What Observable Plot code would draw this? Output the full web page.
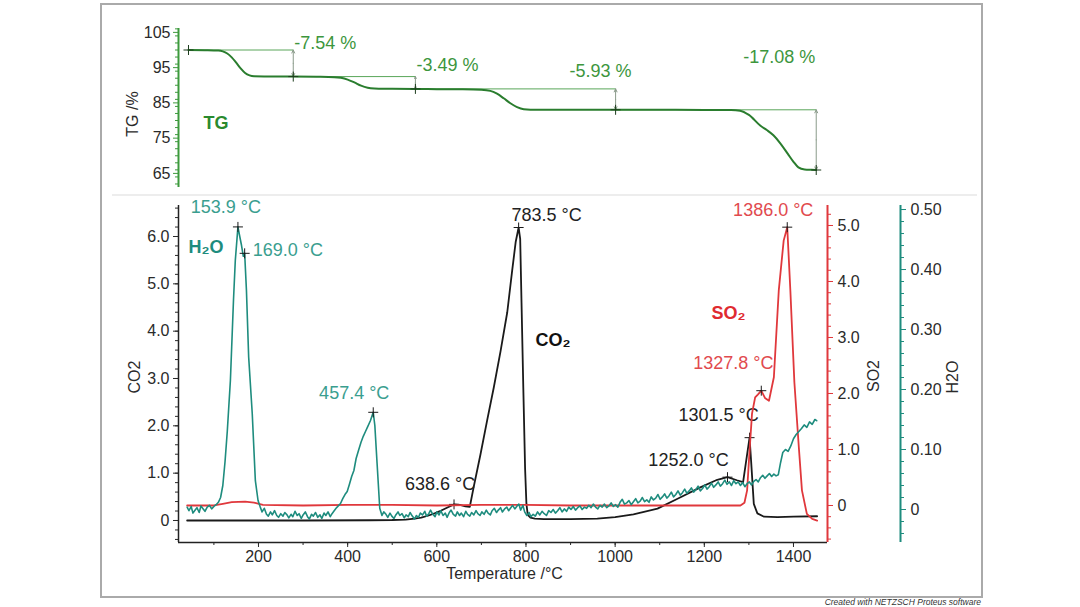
<!DOCTYPE html>
<html><head><meta charset="utf-8">
<script src="https://cdn.jsdelivr.net/npm/d3@7"></script>
<script src="https://cdn.jsdelivr.net/npm/@observablehq/plot@0.6"></script>
<style>
body{margin:0;background:#fff;}
#wrap{position:relative;width:1080px;height:607px;overflow:hidden;font-family:"Liberation Sans",Arial,sans-serif;background:#fff;}
#wrap svg{position:absolute;left:0;top:0;}
#frame{position:absolute;left:100px;top:3px;width:879px;height:591px;border:2px solid #aaa;}
#sep{position:absolute;left:112px;top:194px;width:865px;height:2px;background:#ededed;}
#credit{position:absolute;right:99px;top:597px;font-size:8.5px;font-style:italic;color:#333;white-space:nowrap;}
</style></head>
<body><div id="wrap"><div id="frame"></div><div id="sep"></div><div id="credit">Created with NETZSCH Proteus software</div></div>
<script>
// ---------------- data ----------------
const xDomain = [20.6, 1476.3];
const xTicks = [200, 400, 600, 800, 1000, 1200, 1400];
const tgTicks = [65, 75, 85, 95, 105];
const co2Ticks = [0, 1, 2, 3, 4, 5, 6];
const so2Ticks = [0, 1, 2, 3, 4, 5];
const h2oTicks = [0, 0.1, 0.2, 0.3, 0.4, 0.5];

// TG curve [temperature, mass %]
const tgCurve = [[43,100],[80,99.95],[110,99.85],[120,99.6],[130,99.0],[140,97.9],[150,96.4],[160,94.8],[170,93.5],[180,92.8],[190,92.55],[220,92.5],[278,92.46],[330,92.4],[370,92.3],[385,92.1],[400,91.6],[415,90.8],[430,89.9],[445,89.3],[460,89.05],[470,89.0],[500,88.98],[552,88.97],[600,88.9],[650,88.85],[700,88.7],[720,88.4],[735,87.6],[750,86.3],[765,84.9],[780,83.8],[795,83.2],[810,83.08],[900,83.06],[1001,83.04],[1100,83.03],[1200,83.0],[1260,82.95],[1280,82.8],[1300,81.6],[1326,78.5],[1340,77.3],[1355,75.8],[1370,73.6],[1387,70.6],[1400,68.3],[1411,66.7],[1425,66.1],[1440,66.0],[1451,65.96]];

// TG steps
const stepStart = [43, 278, 552, 1001];
const stepTemp = [278, 552, 1001, 1451];
const stepFrom = [100.0, 92.46, 88.97, 83.04];
const stepTo = [92.46, 88.97, 83.04, 65.96];
const stepLabel = ["-7.54 %", "-3.49 %", "-5.93 %", "-17.08 %"];

// CO2 curve
const co2Curve = [[40,0],[150,0],[300,0],[450,0.005],[500,0.01],[530,0.02],[550,0.04],[565,0.06],[580,0.10],[595,0.15],[610,0.21],[625,0.28],[638.6,0.34],[652,0.33],[664,0.30],[674,0.29],[683,0.72],[698,1.40],[713,2.12],[728,2.82],[743,3.58],[758,4.40],[769,5.28],[777,5.89],[783.5,6.19],[787,5.95],[790,4.6],[794,2.8],[798,1.1],[801,0.35],[804,0.12],[810,0.06],[820,0.04],[840,0.03],[900,0.03],[960,0.04],[1000,0.07],[1041,0.13],[1095,0.25],[1140,0.46],[1191,0.70],[1229,0.86],[1252,0.915],[1273,0.85],[1287,0.81],[1293,1.2],[1301.5,1.75],[1305,1.25],[1311,0.35],[1319,0.15],[1334,0.08],[1364,0.07],[1400,0.08],[1453,0.09]];

// SO2 curve
const so2Curve = [[40,0.0],[100,0.0],[120,0.03],[140,0.06],[170,0.07],[190,0.05],[210,0.01],[300,0.0],[400,0.01],[500,0.01],[600,0.0],[700,0.01],[800,0.01],[900,0.0],[1000,0.0],[1100,0.0],[1200,0.0],[1281,0.0],[1290,0.05],[1296,0.27],[1302,1.04],[1307,1.64],[1314,1.93],[1320,1.98],[1327.8,2.05],[1336,1.92],[1345,1.87],[1356,2.29],[1367,3.84],[1378,4.73],[1386,4.97],[1393,3.84],[1402,2.2],[1412,1.04],[1419,0.27],[1430,-0.15],[1442,-0.24],[1453,-0.27]];

// H2O curve
const h2oCurve = [[40,0.004],[44,-0.002],[49,0.005],[53,-0.006],[58,-0.001],[62,0.003],[67,-0.005],[71,0.006],[76,0.001],[80,-0.003],[85,0.004],[90,0.007],[95,0.001],[100,0.005],[105,0.008],[110,0.012],[115,0.020],[120,0.040],[125,0.080],[130,0.130],
[137,0.215],[144,0.35],[148,0.415],[153.9,0.471],[158,0.455],[162,0.44],[166,0.422],[169,0.427],[173,0.365],[178,0.254],[186,0.16],[193,0.048],[199,0.015],
[204,0.004],[208,-0.004],[213,0.002],[218,-0.008],[222,-0.011],[227,-0.004],[231,-0.009],[236,-0.002],[241,-0.010],[245,-0.013],[250,-0.007],[255,-0.011],[259,-0.005],[264,-0.009],[268,-0.014],[273,-0.008],[277,-0.012],[282,-0.003],[287,-0.010],[291,-0.007],[296,-0.015],[300,-0.009],[305,-0.004],[310,-0.012],[314,-0.016],[319,-0.008],[323,-0.011],[328,-0.005],[333,-0.013],[338,-0.009],[342,-0.015],[347,-0.006],[351,-0.010],[356,-0.004],[361,-0.012],[365,-0.007],[369,-0.003],[374,0.002],[379,0.006],[384,0.010],[389,0.018],[394,0.025],[399,0.030],[404,0.042],[409,0.055],[414,0.065],[419,0.085],
[425,0.100],[430,0.112],[435,0.122],[440,0.130],[445,0.138],[451,0.148],[457.4,0.162],[461,0.140],[466,0.077],[472,0.002],
[477,-0.010],[481,-0.004],[486,-0.008],[490,-0.013],[495,-0.006],[499,-0.011],[504,-0.015],[508,-0.009],[513,-0.004],[517,-0.010],[522,-0.007],[527,-0.014],[531,-0.009],[536,-0.012],[540,-0.005],[545,-0.011],[550,-0.016],[554,-0.010],[559,-0.013],[563,-0.006],[568,-0.009],[573,-0.003],[577,-0.011],[582,-0.007],[586,-0.001],[591,-0.008],[596,-0.012],[600,-0.004],[605,-0.009],[609,-0.002],[614,-0.010],[619,-0.006],[623,-0.013],[628,-0.005],[632,-0.001],[637,-0.008],[642,-0.011],[646,-0.004],[651,-0.010],[655,-0.006],[660,-0.012],[665,-0.003],[669,-0.008],[674,-0.011],[678,-0.005],[683,-0.009],[688,-0.002],[692,-0.007],[697,-0.010],[701,-0.004],[706,-0.008],[711,-0.001],[715,-0.006],[720,-0.009],[724,-0.002],[729,0.002],[734,-0.005],[738,-0.001],[743,0.003],[747,-0.004],[752,0.001],[757,0.004],[761,-0.002],[766,0.003],[770,0.007],[775,0.001],[780,0.006],[784,0.009],[788,-0.001],[793,0.007],[797,-0.004],[802,-0.010],[807,-0.005],[811,-0.012],[816,-0.008],[821,-0.011],[826,-0.004],[831,-0.009],
[836,-0.003],[841,-0.007],[846,-0.010],[851,-0.002],[856,-0.005],[861,0.000],[866,-0.006],[871,-0.002],[876,0.003],[881,-0.004],[886,0.001],[891,-0.003],[896,0.004],[901,0.000],[906,0.005],[911,-0.001],[916,0.003],[921,0.006],[926,0.000],[931,0.004],[936,0.002],[941,0.007],[946,0.003],[951,0.009],[956,0.004],[961,0.001],[966,0.007],[971,0.004],[976,0.009],[981,0.003],[986,0.006],[991,0.011],[996,0.005],[1001,0.008],[1006,0.004],[1011,0.012],[1016,0.017],[1021,0.009],[1026,0.011],[1031,0.015],[1036,0.008],[1041,0.013],[1046,0.018],[1051,0.011],[1056,0.014],[1061,0.020],[1066,0.013],[1071,0.016],[1076,0.012],[1081,0.021],[1086,0.016],[1091,0.019],[1096,0.025],[1101,0.017],[1106,0.021],[1111,0.026],[1116,0.019],[1121,0.023],[1126,0.029],[1131,0.021],[1136,0.025],[1141,0.031],[1146,0.024],[1151,0.028],[1156,0.034],[1161,0.027],[1166,0.031],[1171,0.036],[1176,0.029],[1181,0.033],[1186,0.039],[1191,0.031],[1196,0.035],[1201,0.041],[1206,0.034],[1211,0.038],[1216,0.044],[1221,0.037],[1226,0.041],[1231,0.046],[1236,0.039],[1241,0.043],[1246,0.049],[1251,0.042],[1256,0.046],[1261,0.040],[1266,0.048],[1271,0.043],[1276,0.046],[1281,0.040],[1286,0.045],[1291,0.038],[1296,0.043],[1301,0.046],[1306,0.041],[1311,0.047],[1316,0.050],[1321,0.046],[1326,0.053],[1331,0.057],[1336,0.052],[1341,0.056],[1346,0.060],[1351,0.055],[1356,0.059],[1361,0.056],[1366,0.058],
[1371,0.078],[1376,0.095],[1382,0.100],[1388,0.097],[1394,0.106],[1400,0.118],[1406,0.125],[1412,0.130],[1418,0.135],[1424,0.141],[1430,0.137],[1436,0.146],[1442,0.142],[1448,0.150],[1452,0.148]];

// peaks
const h2oPeakTemp = [153.9, 169.0, 457.4];
const h2oPeakValue = [0.471, 0.427, 0.162];
const co2PeakTemp = [638.6, 783.5, 1252.0, 1301.5];
const co2PeakValue = [0.34, 6.19, 0.915, 1.75];
const so2PeakTemp = [1327.8, 1386.0];
const so2PeakValue = [2.05, 4.97];

// ---------------- layout / style ----------------
const W = 1080, H = 607, ML = 178, MR = 253;
const GREEN_LINE = "#2a7d2e", GREEN_AXIS = "#3d9a3d", GREEN_TEXT = "#3d963d";
const TEAL = "#1e8c7e", TEAL_TEXT = "#3a9e8f";
const RED = "#e0383c", RED_TEXT = "#e14a4e";
const BLACK = "#1a1a1a", TICKTXT = "#2a2a2a";
const baseStyle = {background: "transparent", overflow: "visible", fontFamily: "'Liberation Sans', Arial, sans-serif", fontSize: "16px", color: TICKTXT};
const LBL = 18, TICKFS = 16, TITLEFS = 16;
const peakPlace = {
  "153.9": {dx: -12, dy: -20, a: "middle"},
  "169.0": {dx: 8, dy: -3, a: "start"},
  "457.4": {dx: -19, dy: -19, a: "middle"},
  "638.6": {dx: -14, dy: -20, a: "middle"},
  "783.5": {dx: 28, dy: -12, a: "middle"},
  "1252.0": {dx: -39, dy: -17, a: "middle"},
  "1301.5": {dx: -31, dy: -22, a: "middle"},
  "1327.8": {dx: -28, dy: -27, a: "middle"},
  "1386.0": {dx: -14, dy: -17, a: "middle"}
};
const stepPlace = [
  {dx: 1, dy: -7, a: "start"},
  {dx: 1, dy: -11, a: "start"},
  {dx: -15, dy: -17.5, a: "middle"},
  {dx: -37, dy: -52.7, a: "middle"}
];
const cross = {draw(ctx, size) { const r = Math.sqrt(size / Math.PI); ctx.moveTo(-r, 0); ctx.lineTo(r, 0); ctx.moveTo(0, -r); ctx.lineTo(0, r); }};
const fmt1 = d => d === 0 ? "0" : d.toFixed(1);
const fmt2 = d => d === 0 ? "0" : d.toFixed(2);
const toRows = arr => arr.map(([t, v]) => ({t, v}));

function peakMarks(temps, values, color) {
  const rows = temps.map((t, i) => ({t, v: values[i], label: t.toFixed(1) + " °C"}));
  const marks = [Plot.dot(rows, {x: "t", y: "v", symbol: cross, r: 5, stroke: BLACK, strokeWidth: 1, fill: "none"})];
  rows.forEach(d => {
    const p = peakPlace[d.t.toFixed(1)];
    marks.push(Plot.text([d], {x: "t", y: "v", text: "label", dx: p.dx, dy: p.dy, textAnchor: p.a, lineAnchor: "middle", fill: color, fontSize: LBL}));
  });
  return marks;
}

// ---------------- TG panel ----------------
const steps = stepTemp.map((t, i) => ({t, start: stepStart[i], from: stepFrom[i], to: stepTo[i], mid: (stepFrom[i] + stepTo[i]) / 2, label: stepLabel[i]}));
const tgMarkers = [{t: tgCurve[0][0], v: tgCurve[0][1]}].concat(steps.map(s => ({t: s.t, v: s.to})));
const stepLabelMarks = steps.map((s, i) => Plot.text([s], {x: "t", y: "from", text: "label", dx: stepPlace[i].dx, dy: stepPlace[i].dy, textAnchor: stepPlace[i].a, lineAnchor: "middle", fill: GREEN_TEXT, fontSize: LBL}));

const tgPlot = Plot.plot({
  width: W, height: H, marginLeft: ML, marginRight: MR, marginTop: 28, marginBottom: 420,
  x: {domain: xDomain, axis: null},
  y: {domain: [61, 106.1]},
  style: baseStyle,
  marks: [
    Plot.axisY({ticks: 23, tickSize: 3, tickFormat: () => "", stroke: GREEN_AXIS, label: null}),
    Plot.axisY(tgTicks, {tickSize: 5, tickPadding: 3, stroke: GREEN_AXIS, fill: TICKTXT, fontSize: TICKFS, label: null}),
    Plot.ruleX([xDomain[0]], {stroke: GREEN_AXIS, strokeWidth: 2}),
    Plot.link(steps, {x1: "start", x2: "t", y1: "from", y2: "from", stroke: "#5aa65a", strokeWidth: 1}),
    Plot.arrow(steps, {x1: "t", x2: "t", y1: "mid", y2: "from", stroke: "#8a9a8a", strokeWidth: 1, headLength: 5, headAngle: 50}),
    Plot.arrow(steps, {x1: "t", x2: "t", y1: "mid", y2: "to", stroke: "#8a9a8a", strokeWidth: 1, headLength: 5, headAngle: 50}),
    Plot.line(toRows(tgCurve), {x: "t", y: "v", stroke: GREEN_LINE, strokeWidth: 2, curve: "monotone-x"}),
    Plot.dot(tgMarkers, {x: "t", y: "v", symbol: cross, r: 5, stroke: "#1d3d1d", strokeWidth: 1, fill: "none"}),
    ...stepLabelMarks,
    Plot.text(["TG"], {frameAnchor: "top-left", dx: 25, dy: 95, textAnchor: "start", lineAnchor: "middle", fill: "#2a8a2e", fontWeight: "bold", fontSize: LBL}),
    Plot.text(["TG /%"], {frameAnchor: "left", dx: -46, dy: 6, rotate: -90, textAnchor: "middle", lineAnchor: "middle", fill: TICKTXT, fontSize: TITLEFS})
  ]
});

// ---------------- CO2 panel (with x axis) ----------------
const bottom = {width: W, height: H, marginLeft: ML, marginRight: MR, marginTop: 205, marginBottom: 65, style: baseStyle};
const co2Domain = [-0.465, 6.655];
const co2Plot = Plot.plot({
  ...bottom,
  x: {domain: xDomain},
  y: {domain: co2Domain},
  marks: [
    Plot.axisX({ticks: 14, tickSize: 3, tickFormat: () => "", stroke: TICKTXT, label: null}),
    Plot.axisX(xTicks, {tickSize: 5, tickPadding: 3, tickFormat: d => String(d), stroke: TICKTXT, fill: TICKTXT, fontSize: TICKFS, label: null}),
    Plot.axisY({ticks: 35, tickSize: 3, tickFormat: () => "", stroke: TICKTXT, label: null}),
    Plot.axisY(co2Ticks, {tickSize: 5, tickPadding: 4, tickFormat: fmt1, stroke: TICKTXT, fill: TICKTXT, fontSize: TICKFS, label: null}),
    Plot.ruleX([xDomain[0]], {stroke: "#222", strokeWidth: 1.5}),
    Plot.ruleY([co2Domain[0]], {stroke: "#222", strokeWidth: 1.5}),
    Plot.line(toRows(co2Curve), {x: "t", y: "v", stroke: BLACK, strokeWidth: 1.8}),
    ...peakMarks(co2PeakTemp, co2PeakValue, "#222"),
    Plot.text(["CO₂"], {frameAnchor: "top-left", dx: 357, dy: 135, textAnchor: "start", lineAnchor: "middle", fill: "#111", fontWeight: "bold", fontSize: LBL}),
    Plot.text(["CO2"], {frameAnchor: "left", dx: -44, dy: 3, rotate: -90, textAnchor: "middle", lineAnchor: "middle", fill: TICKTXT, fontSize: TITLEFS}),
    Plot.text(["Temperature /°C"], {frameAnchor: "bottom", dx: 1.5, dy: 31, textAnchor: "middle", lineAnchor: "middle", fill: TICKTXT, fontSize: TITLEFS})
  ]
});

// ---------------- SO2 panel ----------------
const so2Domain = [-0.661, 5.357];
const so2Plot = Plot.plot({
  ...bottom,
  x: {domain: xDomain, axis: null},
  y: {domain: so2Domain},
  marks: [
    Plot.axisY({anchor: "right", ticks: 30, tickSize: 3, tickFormat: () => "", stroke: RED, label: null}),
    Plot.axisY(so2Ticks, {anchor: "right", tickSize: 5, tickPadding: 5, tickFormat: fmt1, stroke: RED, fill: TICKTXT, fontSize: TICKFS, label: null}),
    Plot.ruleX([xDomain[1]], {stroke: RED, strokeWidth: 2}),
    Plot.line(toRows(so2Curve), {x: "t", y: "v", stroke: RED, strokeWidth: 1.8}),
    ...peakMarks(so2PeakTemp, so2PeakValue, RED_TEXT),
    Plot.text(["SO₂"], {frameAnchor: "top-left", dx: 533, dy: 108, textAnchor: "start", lineAnchor: "middle", fill: "#e02a30", fontWeight: "bold", fontSize: LBL}),
    Plot.text(["SO2"], {frameAnchor: "right", dx: 46, dy: 2, rotate: -90, textAnchor: "middle", lineAnchor: "middle", fill: TICKTXT, fontSize: TITLEFS})
  ]
});

// ---------------- H2O panel ----------------
const h2oDomain = [-0.055, 0.5067];
const h2oPlot = Plot.plot({
  ...bottom,
  x: {domain: xDomain, axis: null},
  y: {domain: h2oDomain},
  marks: [
    Plot.axisY({anchor: "right", dx: 73, ticks: 28, tickSize: 3, tickFormat: () => "", stroke: TEAL, label: null}),
    Plot.axisY(h2oTicks, {anchor: "right", dx: 73, tickSize: 5, tickPadding: 5, tickFormat: fmt2, stroke: TEAL, fill: TICKTXT, fontSize: TICKFS, label: null}),
    Plot.ruleX([xDomain[1]], {dx: 73, stroke: TEAL, strokeWidth: 2}),
    Plot.line(toRows(h2oCurve), {x: "t", y: "v", stroke: TEAL, strokeWidth: 1.6}),
    ...peakMarks(h2oPeakTemp, h2oPeakValue, TEAL_TEXT),
    Plot.text(["H₂O"], {frameAnchor: "top-left", dx: 10, dy: 42, textAnchor: "start", lineAnchor: "middle", fill: "#1e8c7e", fontWeight: "bold", fontSize: LBL}),
    Plot.text(["H2O"], {frameAnchor: "right", dx: 125, dy: 3, rotate: -90, textAnchor: "middle", lineAnchor: "middle", fill: TICKTXT, fontSize: TITLEFS})
  ]
});

const wrap = document.getElementById("wrap");
[tgPlot, co2Plot, so2Plot, h2oPlot].forEach(svg => wrap.appendChild(svg));
</script>
</body></html>
